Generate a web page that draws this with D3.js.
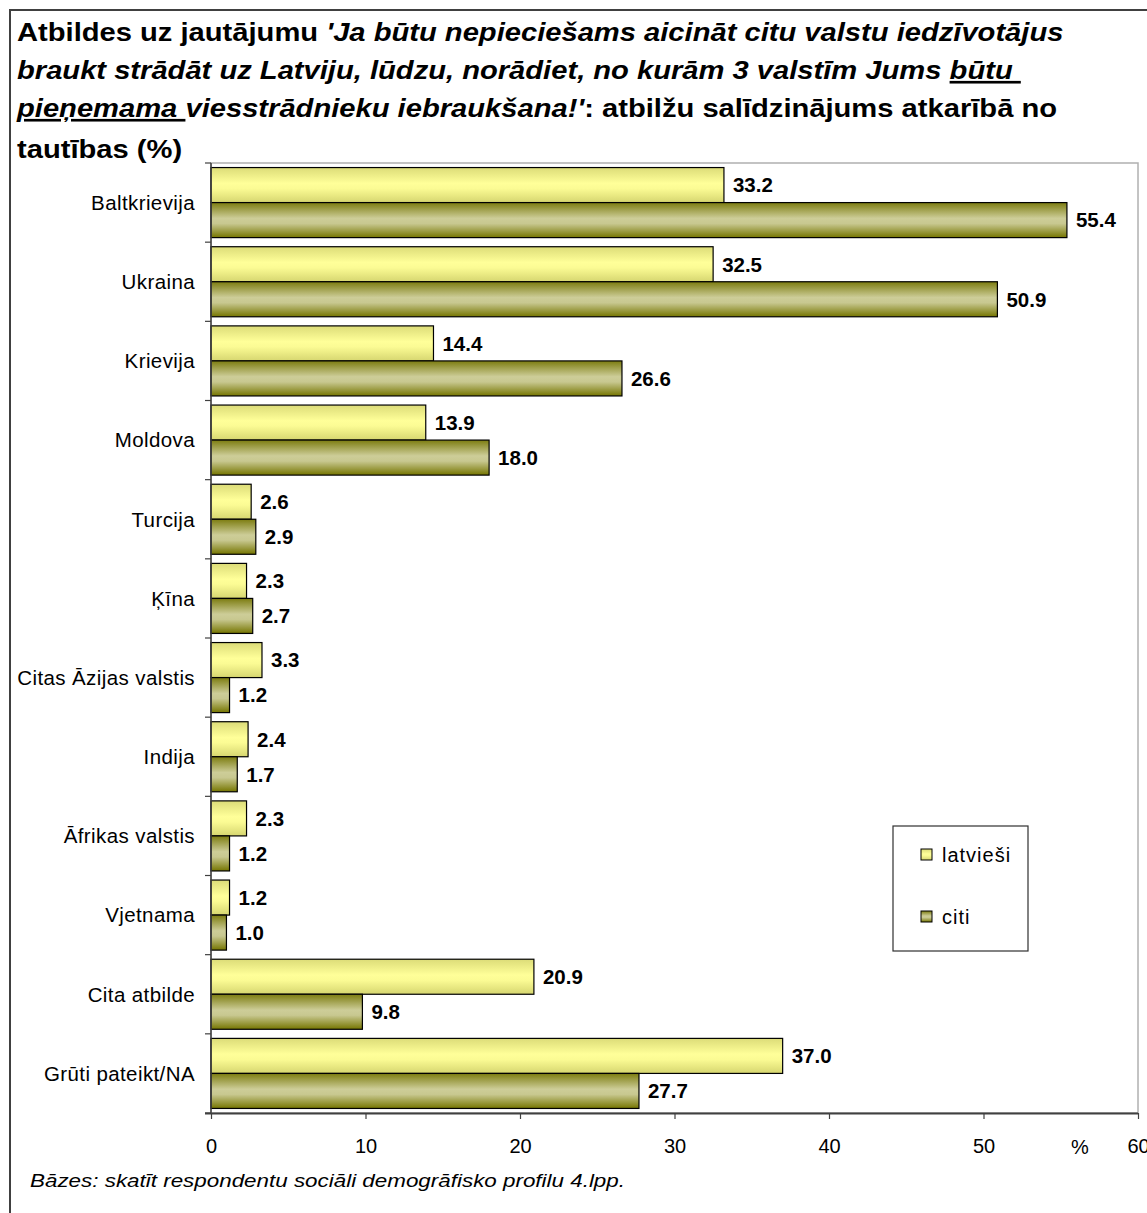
<!DOCTYPE html>
<html>
<head>
<meta charset="utf-8">
<script src="https://cdn.jsdelivr.net/npm/d3@7"></script>
<style>
  body { margin: 0; background: #fff; }
  svg { display: block; font-family: "Liberation Sans", Arial, sans-serif; }
</style>
</head>
<body>
<div class="chart"></div>
<script>
// data
const categories = ["Baltkrievija", "Ukraina", "Krievija", "Moldova", "Turcija", "Ķīna",
  "Citas Āzijas valstis", "Indija", "Āfrikas valstis", "Vjetnama", "Cita atbilde", "Grūti pateikt/NA"];
const seriesNames = ["latvieši", "citi"];
const latviesi = [33.2, 32.5, 14.4, 13.9, 2.6, 2.3, 3.3, 2.4, 2.3, 1.2, 20.9, 37.0];
const citi = [55.4, 50.9, 26.6, 18.0, 2.9, 2.7, 1.2, 1.7, 1.2, 1.0, 9.8, 27.7];
const xTicks = [0, 10, 20, 30, 40, 50, 60];

const W = 1147, H = 1213;
const plot = { left: 211, right: 1138, top: 163, bottom: 1113 };

const svg = d3.select("div.chart").append("svg")
  .attr("width", W)
  .attr("height", H);

// gradients like the excel fill
const defs = svg.append("defs");
function addGradient(id, stops) {
  let g = defs.append("linearGradient")
    .attr("id", id)
    .attr("x1", 0).attr("y1", 0).attr("x2", 0).attr("y2", 1);
  stops.forEach(s => g.append("stop").attr("offset", s[0]).attr("stop-color", s[1]));
}
addGradient("grad-latviesi", [["0%", "#dcdc78"], ["45%", "#ffff99"], ["60%", "#fbfb94"], ["100%", "#d6d670"]]);
addGradient("grad-citi", [["0%", "#7c7c10"], ["45%", "#cdcd98"], ["60%", "#c8c890"], ["100%", "#757500"]]);
const fills = { "latvieši": "url(#grad-latviesi)", "citi": "url(#grad-citi)" };

// outer frame
svg.append("rect")
  .attr("x", 10).attr("y", 10)
  .attr("width", W + 20).attr("height", H + 20)
  .attr("fill", "none")
  .attr("stroke", "#404040")
  .attr("stroke-width", 2);

// title (the original is drawn a bit wider than Arial, so stretch it)
const title = svg.append("text")
  .attr("transform", "translate(17,0) scale(1.1,1)")
  .attr("font-size", 26.5)
  .attr("font-weight", "bold")
  .attr("fill", "#000");
const titleLines = [
  [["Atbildes uz jautājumu ", ""], ["'Ja būtu nepieciešams aicināt citu valstu iedzīvotājus", "i"]],
  [["braukt strādāt uz Latviju, lūdzu, norādiet, no kurām 3 valstīm Jums ", "i"], ["būtu ", "iu"]],
  [["pieņemama ", "iu"], [" viesstrādnieku iebraukšana!'", "i"], [": atbilžu salīdzinājums atkarībā no", ""]],
  [["tautības (%)", ""]]
];
const titleY = [41, 79, 117, 158];
titleLines.forEach((line, i) => {
  line.forEach((part, j) => {
    let t = title.append("tspan")
      .text(part[0])
      .attr("font-style", part[1].includes("i") ? "italic" : "normal")
      .attr("text-decoration", part[1].includes("u") ? "underline" : "none");
    if (j === 0) t.attr("x", 0).attr("y", titleY[i]);
  });
});

// scales
const x = d3.scaleLinear().domain([0, 60]).range([plot.left, plot.right]);
const y = d3.scaleBand().domain(categories).range([plot.top, plot.bottom]).padding(0);
const ySub = d3.scaleBand().domain(seriesNames).range([0, y.bandwidth()])
  .paddingInner(0).paddingOuter(0.13);

// plot frame
svg.append("rect")
  .attr("x", plot.left).attr("y", plot.top)
  .attr("width", plot.right - plot.left).attr("height", plot.bottom - plot.top)
  .attr("fill", "#fff")
  .attr("stroke", "#b0b0b0")
  .attr("stroke-width", 1.5);

// bars
const rows = categories.map((c, i) => ({
  cat: c,
  values: [{ s: "latvieši", v: latviesi[i] }, { s: "citi", v: citi[i] }]
}));

const groups = svg.selectAll("g.row")
  .data(rows)
  .enter().append("g")
  .attr("class", "row")
  .attr("transform", d => `translate(0,${y(d.cat)})`);

groups.selectAll("rect")
  .data(d => d.values)
  .enter().append("rect")
  .attr("x", x(0))
  .attr("y", d => ySub(d.s))
  .attr("width", d => x(d.v) - x(0))
  .attr("height", ySub.bandwidth())
  .attr("fill", d => fills[d.s])
  .attr("stroke", "#000")
  .attr("stroke-width", 1.2);

groups.selectAll("text.val")
  .data(d => d.values)
  .enter().append("text")
  .attr("class", "val")
  .attr("x", d => x(d.v) + 9)
  .attr("y", d => ySub(d.s) + ySub.bandwidth() / 2)
  .attr("dy", "0.36em")
  .attr("font-size", 20.5)
  .attr("font-weight", "bold")
  .text(d => d.v.toFixed(1));

// category labels
svg.selectAll("text.cat")
  .data(categories)
  .enter().append("text")
  .attr("class", "cat")
  .attr("x", 195)
  .attr("y", d => y(d) + y.bandwidth() / 2)
  .attr("dy", "0.36em")
  .attr("text-anchor", "end")
  .attr("font-size", 20.5)
  .attr("letter-spacing", 0.4)
  .text(d => d);

// left axis line and boundary ticks
svg.append("line")
  .attr("x1", plot.left).attr("x2", plot.left)
  .attr("y1", plot.top).attr("y2", plot.bottom)
  .attr("stroke", "#404040").attr("stroke-width", 1.5);
svg.selectAll("line.ytick")
  .data(categories.map(c => y(c)).concat([plot.bottom]))
  .enter().append("line")
  .attr("class", "ytick")
  .attr("x1", plot.left - 6).attr("x2", plot.left)
  .attr("y1", d => d).attr("y2", d => d)
  .attr("stroke", "#404040").attr("stroke-width", 1.2);

// bottom axis
const xAxis = svg.append("g")
  .attr("transform", `translate(0,${plot.bottom})`)
  .call(d3.axisBottom(x).tickValues(xTicks).tickSize(6).tickPadding(20).tickSizeOuter(0));
xAxis.select(".domain").attr("stroke", "#404040").attr("stroke-width", 2)
  .attr("d", `M${plot.left - 6},0.5H${plot.right}`);
xAxis.selectAll(".tick line").attr("stroke", "#404040").attr("stroke-width", 1.2);
xAxis.selectAll(".tick text")
  .attr("font-size", 20)
  .attr("font-family", "Liberation Sans, Arial, sans-serif")
  .attr("fill", "#000");

svg.append("text")
  .attr("x", 1080).attr("y", 1154)
  .attr("text-anchor", "middle")
  .attr("font-size", 20)
  .text("%");

// legend
const legend = svg.append("g").attr("transform", "translate(893,826)");
legend.append("rect")
  .attr("width", 135).attr("height", 125)
  .attr("fill", "#fff")
  .attr("stroke", "#303030")
  .attr("stroke-width", 1.2);
const legendItems = legend.selectAll("g.item")
  .data(seriesNames)
  .enter().append("g")
  .attr("class", "item")
  .attr("transform", (d, i) => `translate(28,${23 + i * 62})`);
legendItems.append("rect")
  .attr("width", 11).attr("height", 11)
  .attr("fill", d => fills[d])
  .attr("stroke", "#000");
legendItems.append("text")
  .attr("x", 21).attr("y", 6)
  .attr("dy", "0.36em")
  .attr("font-size", 20)
  .attr("letter-spacing", 1)
  .text(d => d);

// footnote
svg.append("text")
  .attr("x", 30).attr("y", 1187)
  .attr("font-size", 19)
  .attr("font-style", "italic")
  .attr("textLength", 595)
  .attr("lengthAdjust", "spacingAndGlyphs")
  .text("Bāzes: skatīt respondentu sociāli demogrāfisko profilu 4.lpp.");
</script>
</body>
</html>
